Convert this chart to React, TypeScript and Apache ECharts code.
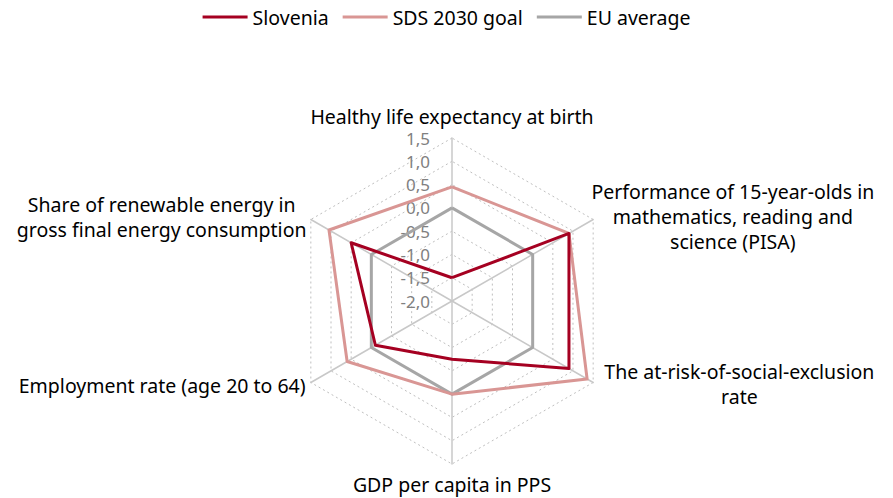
import React, { useEffect, useRef } from "react";
import * as echarts from "echarts";

const indicatorNames = [
  "Healthy life expectancy at birth",
  "Share of renewable energy in\ngross final energy consumption",
  "Employment rate (age 20 to 64)",
  "GDP per capita in PPS",
  "The at-risk-of-social-exclusion\nrate",
  "Performance of 15-year-olds in\nmathematics, reading and\nscience (PISA)",
];
const richKeys = ["h", "r", "e", "g", "s", "p"];

const slovenia = [-1.5, 0.5, -0.1, -0.75, 0.9, 0.9];
const sdsGoal = [0.45, 1.05, 0.6, 0.0, 1.35, 0.9];
const euAverage = [0.0, 0.0, 0.0, 0.0, 0.0, 0.0];

const axisMin = -2.0;
const axisMax = 1.5;
const axisStep = 0.5;

const FONT = "Noto Sans";
const NAME_SIZE = 19.5;

export default function App() {
  const ref = useRef<HTMLDivElement>(null);
  useEffect(() => {
    document.body.style.margin = "0";
    const chart = echarts.init(ref.current!, null, { renderer: "svg" });
    const cx = 452;
    const cy = 301;
    const R = 163;
    const base = { fontSize: NAME_SIZE, color: "#000", fontFamily: FONT };
    const option: any = {
      animation: false,
      textStyle: { fontFamily: FONT },
      legend: {
        top: 2,
        left: "center",
        itemWidth: 45,
        itemHeight: 3,
        itemGap: 14,
        icon: "rect",
        textStyle: { fontSize: NAME_SIZE, color: "#000", fontFamily: FONT },
        data: ["Slovenia", "SDS 2030 goal", "EU average"],
      },
      radar: {
        center: [cx, cy],
        radius: R,
        startAngle: 90,
        shape: "polygon",
        splitNumber: 7,
        indicator: indicatorNames.map((n) => ({ name: n, min: axisMin, max: axisMax })),
        axisName: {
          color: "#000",
          fontSize: NAME_SIZE,
          fontFamily: FONT,
          formatter: (name: string) => {
            const i = indicatorNames.indexOf(name);
            const k = richKeys[i];
            return name
              .split("\n")
              .map((l) => `{${k}|${l}}`)
              .join("\n");
          },
          rich: {
            h: { ...base, lineHeight: 22, padding: [0, 0, 10, 0] },
            e: { ...base },
            g: { ...base, padding: [4, 0, 0, 0] },
            r: { ...base, width: 288, align: "center", lineHeight: 25 },
            s: { ...base, width: 282, align: "center", lineHeight: 25, padding: [0, 0, 4, 0] },
            p: { ...base, width: 269, align: "center", lineHeight: 25 },
          },
        },
        nameGap: 6,
        axisLine: { lineStyle: { color: "#C8C8C8", width: 1.5 } },
        splitLine: { lineStyle: { color: "#BFBFBF", width: 1, type: [2, 3] } },
        splitArea: { show: false },
        axisTick: { show: false },
        axisLabel: { show: false },
      },
      grid: {
        left: cx,
        top: cy - R,
        width: 1,
        height: R,
      },
      xAxis: { type: "value", show: false },
      yAxis: {
        type: "value",
        min: axisMin,
        max: axisMax,
        interval: axisStep,
        axisLine: { show: false },
        axisTick: { show: false },
        splitLine: { show: false },
        axisLabel: {
          margin: 22,
          fontSize: 17,
          lineHeight: 14,
          color: "#808080",
          fontFamily: FONT,
          formatter: (v: number) => v.toFixed(1).replace(".", ","),
        },
      },
      series: [
        {
          type: "radar",
          symbol: "none",
          data: [
            { name: "EU average", value: euAverage, lineStyle: { color: "#A6A6A6", width: 3 }, itemStyle: { color: "#A6A6A6" } },
            { name: "SDS 2030 goal", value: sdsGoal, lineStyle: { color: "#D99694", width: 3 }, itemStyle: { color: "#D99694" } },
            { name: "Slovenia", value: slovenia, lineStyle: { color: "#A50021", width: 3 }, itemStyle: { color: "#A50021" } },
          ],
        },
      ],
    };
    chart.setOption(option);
    return () => chart.dispose();
  }, []);
  return <div ref={ref} style={{ width: 893, height: 498 }} />;
}
